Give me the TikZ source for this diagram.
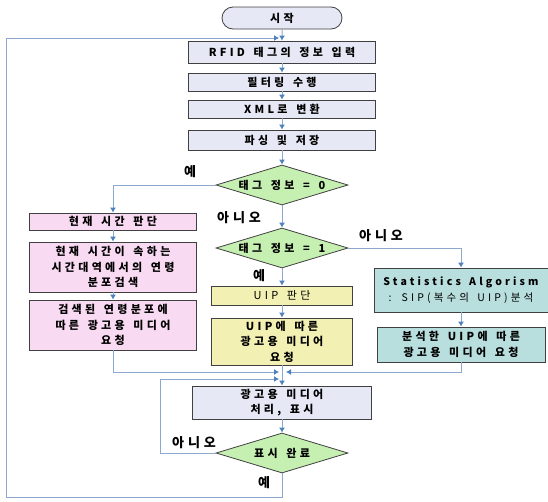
\documentclass[tikz,border=0pt]{standalone}
\usepackage{fontspec}
\usepackage{tikz}
\usetikzlibrary{positioning,arrows.meta,shapes.geometric,shapes.misc}
\newfontfamily\kr{Noto Sans CJK KR}[LetterSpace=30,WordSpace=1.5]
\definecolor{boxfill}{RGB}{230,233,245}
\definecolor{pinkfill}{RGB}{248,218,242}
\definecolor{yellowfill}{RGB}{242,240,178}
\definecolor{tealfill}{RGB}{184,222,222}
\definecolor{greenfill}{RGB}{198,240,178}
\definecolor{linecol}{RGB}{140,168,205}
\definecolor{arrowcol}{RGB}{79,129,189}
\tikzstyle{process}  = [rectangle, draw=black!75, line width=0.8pt, fill=boxfill, inner sep=0pt,
                        align=center, font=\kr\bfseries\fontsize{11}{15.5}\selectfont]
\tikzstyle{decision} = [diamond, draw=black!75, line width=0.8pt, fill=greenfill, shape aspect=3.3,
                        inner sep=0pt, inner xsep=-25pt, font=\kr\bfseries\fontsize{11}{12}\selectfont]
\tikzstyle{arrow}    = [linecol, line width=1pt, -{Latex[color=arrowcol,length=5pt,width=6pt]}]
\tikzstyle{answer}   = [font=\kr\bfseries\fontsize{13}{15}\selectfont]

\begin{document}
\begin{tikzpicture}[x=1pt, y=-1pt]
	\useasboundingbox (0,0) rectangle (548,501);
	% main column
	\node[process, rounded rectangle, minimum width=120, minimum height=22] (start) at (282,18) {시작};
	\node[process, minimum width=187, minimum height=22] (rfid) at (282,52) {RFID 태그의 정보 입력};
	\node[process, minimum width=187, minimum height=18] (filter) at (282,82) {필터링 수행};
	\node[process, minimum width=187, minimum height=18] (xml) at (282,109) {XML로 변환};
	\node[process, minimum width=187, minimum height=20] (parse) at (282,140) {파싱 및 저장};
	\node[decision, minimum width=132, minimum height=40] (tag0) at (282,185) {태그 정보 = 0};
	\node[decision, minimum width=132, minimum height=40] (tag1) at (282,248) {태그 정보 = 1};
	% left branch
	\node[process, fill=pinkfill, minimum width=167, minimum height=17] (now) at (113,221.5) {현재 시간 판단};
	\node[process, fill=pinkfill, minimum width=167, minimum height=50] (age) at (113,267) {현재 시간이 속하는\\시간대역에서의 연령\\분포검색};
	\node[process, fill=pinkfill, minimum width=167, minimum height=50] (agereq) at (113,325) {검색된 연령분포에\\따른 광고용 미디어\\요청};
	% middle branch
	\node[process, fill=yellowfill, font=\kr\fontsize{11}{15}\selectfont, minimum width=141, minimum height=19] (uip) at (282,295.5) {UIP 판단};
	\node[process, fill=yellowfill, minimum width=141, minimum height=47] (uipreq) at (282,341.5) {UIP에 따른\\광고용 미디어\\요청};
	% right branch
	\node[process, fill=tealfill, font=\kr\bfseries\fontsize{10.5}{16}\selectfont, minimum width=174, minimum height=44] (stat) at (461,290) {Statistics Algorism\\{\mdseries : SIP(복수의 UIP)분석}};
	\node[process, fill=tealfill, minimum width=168, minimum height=35] (statreq) at (461,344.5) {분석한 UIP에 따른\\광고용 미디어 요청};
	% bottom
	\node[process, minimum width=179, minimum height=33] (media) at (282,402.5) {광고용 미디어\\처리, 표시};
	\node[decision, minimum width=132, minimum height=40] (done) at (282,453) {표시 완료};
	% answers
	\node[answer] (yes0) at (190,172) {예};
	\node[answer] (no0) at (239,218) {아니오};
	\node[answer] (no1) at (381,236) {아니오};
	\node[answer] (yes1) at (259,276) {예};
	\node[answer] (no2) at (194,443) {아니오};
	\node[answer] (yes2) at (264,483) {예};
	% junctions
	\coordinate (topin) at (279,38);
	\coordinate (joinL) at (279,372);
	\coordinate (joinR) at (286,372);
	\coordinate (loopin) at (279,379);
	\coordinate (noturn) at (160,453);
	\coordinate (bot) at (282,497);
	\coordinate (botL) at (6,497);
	% connectors
	\draw[arrow] (start) -- (rfid);
	\draw[arrow] (rfid) -- (filter);
	\draw[arrow] (filter) -- (xml);
	\draw[arrow] (xml) -- (parse);
	\draw[arrow] (parse) -- (tag0);
	\draw[arrow] (tag0.west) -| (now.north);
	\draw[arrow] (now) -- (age);
	\draw[arrow] (age) -- (agereq);
	\draw[arrow] (tag0) -- (tag1);
	\draw[arrow] (tag1) -- (uip);
	\draw[arrow] (uip) -- (uipreq);
	\draw[arrow] (tag1.east) -| (stat.north);
	\draw[arrow] (stat) -- (statreq);
	\draw[arrow] (uipreq) -- (media);
	\draw[arrow] (agereq.south) |- (joinL);
	\draw[arrow] (statreq.south) |- (joinR);
	\draw[arrow] (media) -- (done);
	\draw[arrow] (done.west) -- (noturn) |- (loopin);
	\draw[arrow] (done.south) -- (bot) -- (botL) |- (topin);
\end{tikzpicture}
\end{document}
